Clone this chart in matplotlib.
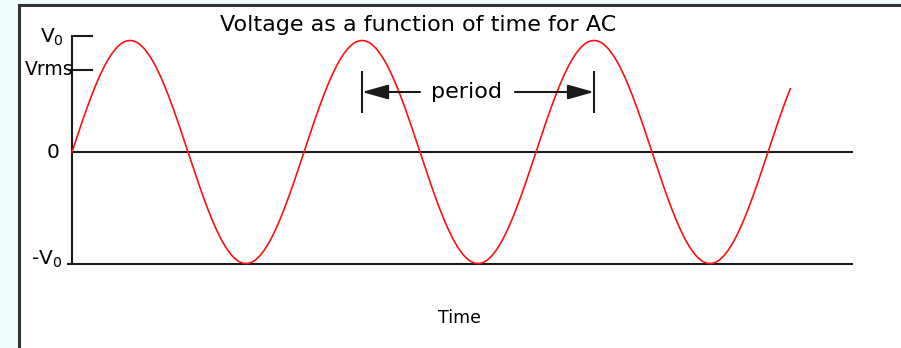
import numpy as np
import matplotlib
matplotlib.use("Agg")
import matplotlib.pyplot as plt
from matplotlib.lines import Line2D
from matplotlib.patches import Rectangle

# ---- data (time in periods, voltage in units of V0) ----
amplitude = 1.0          # V0
n_cycles_shown = 3.096   # curve ends a little after 3 full periods
tick_values = [1.04, 0.735, 0.0, -1.0]
tick_labels = ["V$_\\mathregular{0}$", "Vrms", "0", "-V$_\\mathregular{0}$"]
period_start = 1.25
period_end = 2.25
title = "Voltage as a function of time for AC"
xlabel = "Time"

t = np.linspace(0, n_cycles_shown, 800)
v = amplitude * np.sin(2 * np.pi * t)

W, H = 901, 348
fig = plt.figure(figsize=(W / 100, H / 100), dpi=100)
fig.patch.set_facecolor("#eefcfc")
# white panel with frame
fig.patches.append(Rectangle((19 / W, 0), 1, 1 - 5 / H, transform=fig.transFigure,
                             facecolor="white", edgecolor="none", zorder=-5))
fig.lines.append(Line2D([19 / W, 1], [1 - 5 / H, 1 - 5 / H], transform=fig.transFigure,
                        color="#333333", lw=2.2, zorder=10))
fig.lines.append(Line2D([19 / W, 19 / W], [0, 1 - 5 / H], transform=fig.transFigure,
                        color="#333333", lw=2.2, zorder=10))

ax = fig.add_axes([0, 0, 1, 1])
ax.set_facecolor("none")
ax.axis("off")

px_per_period = 232.0
px_per_v = 111.5
x0_px, y0_px = 72.0, 152.0
ax.set_xlim(-x0_px / px_per_period, (W - x0_px) / px_per_period)
ax.set_ylim((y0_px - H) / px_per_v, y0_px / px_per_v)

ink = "#1a1a1a"
axis_end = (852 - x0_px) / px_per_period
tick_len = 20 / px_per_period

# axes lines
ax.plot([0, 0], [tick_values[3], tick_values[0]], color=ink, lw=1.5, solid_capstyle="butt")
ax.plot([0, axis_end], [0, 0], color=ink, lw=1.5)
ax.plot([-4 / px_per_period, axis_end], [tick_values[3], tick_values[3]], color=ink, lw=1.5)
ax.plot([0, tick_len], [tick_values[0]] * 2, color=ink, lw=1.5)
ax.plot([-3 / px_per_period, tick_len], [tick_values[1]] * 2, color=ink, lw=1.5)

# curve
ax.plot(t, v, color="#ff1010", lw=1.2, zorder=3)

# tick labels
fs = 14.5
ax.text(-8 / px_per_period, 0.978, tick_labels[0], ha="right", va="baseline", fontsize=fs)
ax.text(1 / px_per_period, 0.69, tick_labels[1], ha="right", va="baseline", fontsize=fs - 1)
ax.text(-12 / px_per_period, -0.054, tick_labels[2], ha="right", va="baseline", fontsize=fs)
ax.text(-10 / px_per_period, -1.013, tick_labels[3], ha="right", va="baseline", fontsize=fs)

# period annotation
v_arrow = (y0_px - 92) / px_per_v
v_bar_top = (y0_px - 72) / px_per_v
v_bar_bot = (y0_px - 112) / px_per_v
for tb in (period_start, period_end):
    ax.plot([tb, tb], [v_bar_bot, v_bar_top], color=ink, lw=1.5)
t_text = (466.5 - x0_px) / px_per_period
t_left_gap = (420 - x0_px) / px_per_period
t_right_gap = (515 - x0_px) / px_per_period
arrow_kw = dict(arrowstyle="-|>,head_length=1.6,head_width=0.45", color=ink, lw=1.5,
                shrinkA=0, shrinkB=0, mutation_scale=10)
ax.annotate("", xy=(period_start, v_arrow), xytext=(t_left_gap, v_arrow), arrowprops=arrow_kw)
ax.annotate("", xy=(period_end, v_arrow), xytext=(t_right_gap, v_arrow), arrowprops=arrow_kw)
ax.text(t_text, (y0_px - 98) / px_per_v, "period", ha="center", va="baseline", fontsize=16)

# title and x label
ax.text((418.5 - x0_px) / px_per_period, (y0_px - 31) / px_per_v, title,
        ha="center", va="baseline", fontsize=16)
ax.text((459 - x0_px) / px_per_period, (y0_px - 323) / px_per_v, xlabel,
        ha="center", va="baseline", fontsize=12.5)

fig.savefig("out.png", dpi=100)
